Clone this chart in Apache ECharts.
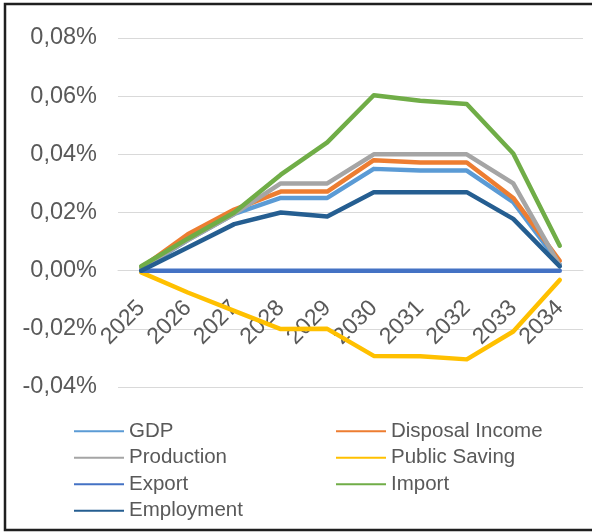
<!DOCTYPE html>
<html>
<head>
<meta charset="utf-8">
<script src="https://cdn.jsdelivr.net/npm/echarts@6/dist/echarts.min.js"></script>
<style>
html,body{margin:0;padding:0;background:#fff;}
#c{width:592px;height:532px;}
</style>
</head>
<body>
<div id="c"></div>
<script>
const years = ['2025','2026','2027','2028','2029','2030','2031','2032','2033','2034'];
const gdp = [0.0005, 0.0105, 0.0195, 0.025, 0.025, 0.035, 0.0344, 0.0344, 0.0236, 0.0022];
const disposalIncome = [0.001, 0.0125, 0.021, 0.0272, 0.0272, 0.038, 0.0372, 0.0372, 0.025, 0.0034];
const production = [0.001, 0.0105, 0.0195, 0.030, 0.030, 0.040, 0.040, 0.040, 0.030, 0.0017];
const publicSaving = [-0.0006, -0.0075, -0.0138, -0.0201, -0.020, -0.0293, -0.0294, -0.0305, -0.0209, -0.0032];
const exportData = [0, 0, 0, 0, 0, 0, 0, 0, 0, 0];
const importData = [0.0015, 0.011, 0.020, 0.033, 0.0441, 0.0603, 0.0584, 0.0573, 0.0403, 0.0086];
const employment = [0, 0.008, 0.016, 0.020, 0.0186, 0.027, 0.027, 0.027, 0.0178, 0.0015];

const seriesDefs = [
  {name:'GDP', data:gdp, color:'#5B9BD5'},
  {name:'Disposal Income', data:disposalIncome, color:'#ED7D31'},
  {name:'Production', data:production, color:'#A5A5A5'},
  {name:'Public Saving', data:publicSaving, color:'#FFC000'},
  {name:'Export', data:exportData, color:'#4472C4'},
  {name:'Import', data:importData, color:'#70AD47'},
  {name:'Employment', data:employment, color:'#255E91'}
];

const chart = echarts.init(document.getElementById('c'), null, {renderer:'canvas'});
const legendCommon = {
  orient:'vertical', icon:'rect', itemWidth:50, itemHeight:2, itemGap:0, padding:0, height:120,
  textStyle:{fontFamily:'Liberation Sans, Arial, sans-serif', fontSize:20.5, color:'#595959', lineHeight:26.5},
  selectedMode:false
};
chart.setOption({
  animation:false,
  color: seriesDefs.map(s=>s.color),
  graphic:[{type:'rect', shape:{x:5, y:4, width:620, height:526}, style:{fill:'none', stroke:'#1f1f1f', lineWidth:2.5}, silent:true, z:100}],
  grid:{left:118, right:9, top:38, bottom:145, containLabel:false},
  legend:[
    Object.assign({left:74, top:418, data:['GDP','Production','Export','Employment']}, legendCommon),
    Object.assign({left:336, top:418, data:['Disposal Income','Public Saving','Import']}, legendCommon)
  ],
  xAxis:{
    type:'category', data:years, boundaryGap:true, offset:-116.5,
    axisLine:{show:true, onZero:false, lineStyle:{color:'#d9d9d9', width:1}},
    axisTick:{show:false},
    axisLabel:{rotate:45, margin:34, fontSize:23, color:'#595959', fontFamily:'Liberation Sans, Arial, sans-serif', interval:0}
  },
  yAxis:{
    type:'value', min:-0.04, max:0.08, interval:0.02,
    axisLine:{show:false}, axisTick:{show:false},
    splitLine:{lineStyle:{color:'#d9d9d9', width:1}},
    axisLabel:{margin:21, fontSize:23.5, color:'#595959', fontFamily:'Liberation Sans, Arial, sans-serif',
      formatter:v=>v.toFixed(2).replace('.',',')+'%'}
  },
  series: seriesDefs.map(s=>({
    name:s.name, type:'line', data:s.data, symbol:'none',
    lineStyle:{width:4.5, color:s.color, cap:'round', join:'round'},
    itemStyle:{color:s.color}
  }))
});
</script>
</body>
</html>
